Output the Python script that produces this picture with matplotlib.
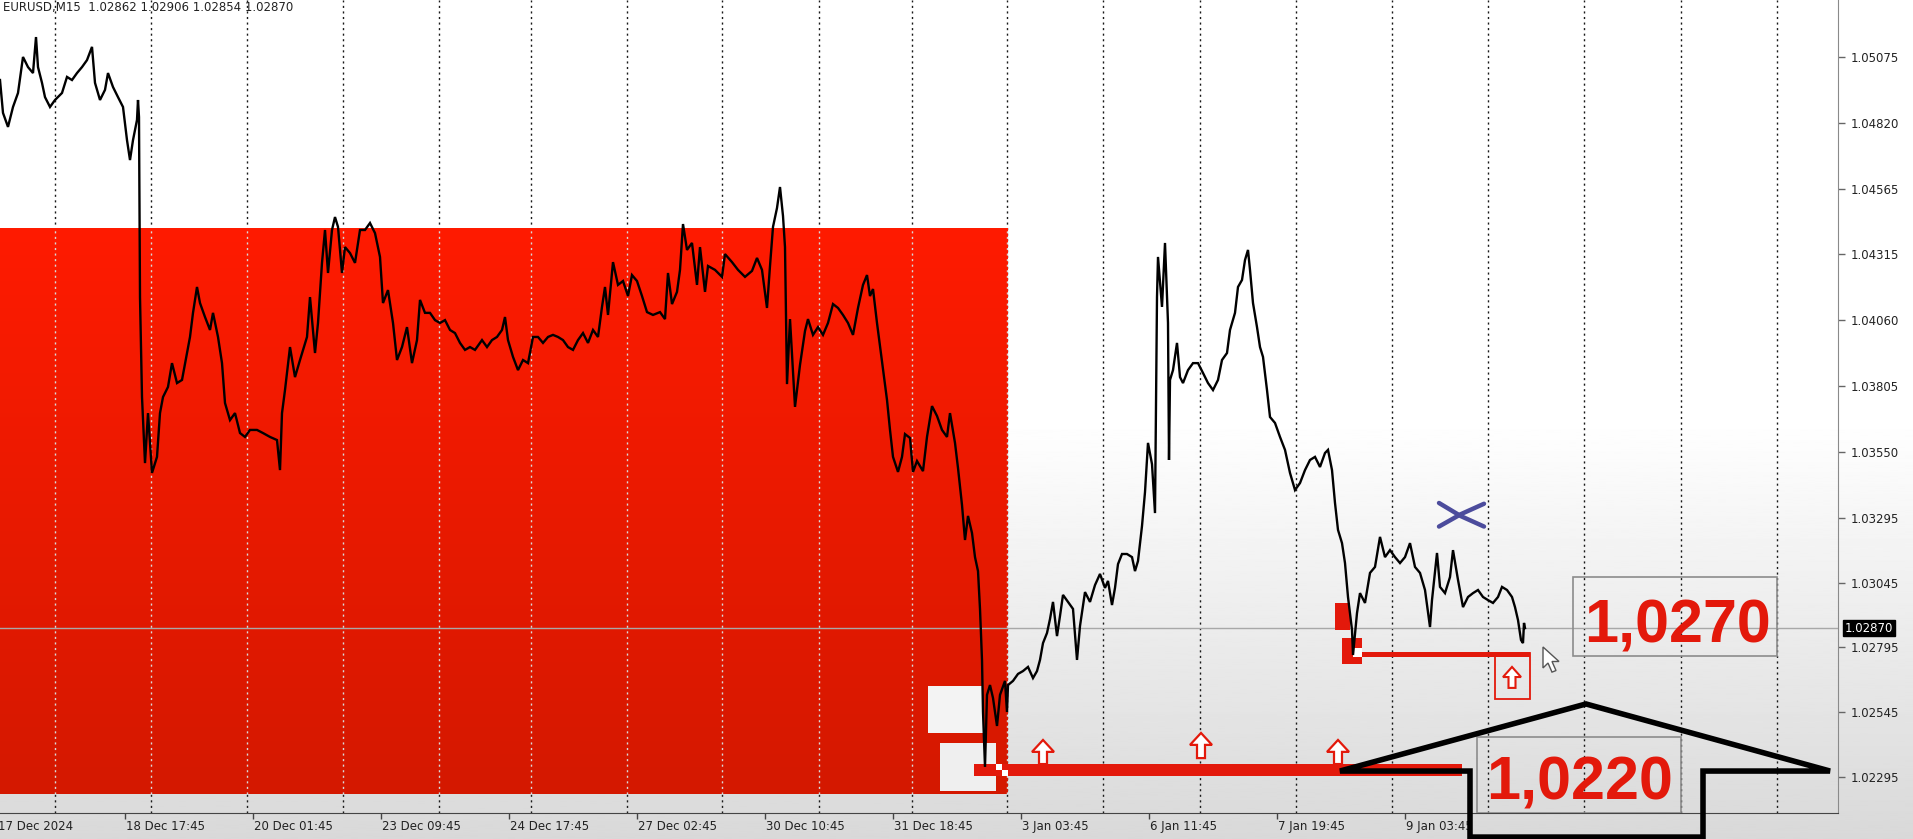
import numpy as np
import matplotlib
matplotlib.use("Agg")
import matplotlib.pyplot as plt
from matplotlib.patches import Rectangle, Polygon
import matplotlib.transforms as mtransforms

# ---------------- data ----------------
symbol_header = "EURUSD,M15  1.02862 1.02906 1.02854 1.02870"

bar_x = [0, 3, 8, 13, 18, 23, 28, 33, 36, 38, 42, 45, 50, 55, 62, 67, 72, 77, 82, 87, 92, 95, 100, 105, 108,
         113, 118, 123, 127, 130, 133, 137, 138, 139, 140, 142, 145, 148, 152, 157, 160, 163, 168, 172, 177,
         182, 187, 190, 193, 197, 200, 205, 210, 213, 218, 222, 225, 230, 235, 240, 245, 250, 257, 263, 270,
         277, 280, 282, 285, 290, 295, 300,
         307, 310, 315, 318, 322, 325, 328, 332, 335, 338, 342, 345, 350, 355, 360, 365, 370, 375, 380, 383,
         388, 393, 397, 402, 407, 412, 417, 420, 425, 430, 435, 440, 445, 450, 455, 460, 465, 470, 475, 482,
         487, 492, 497, 502, 505, 508, 513, 518, 523, 528, 533, 538, 543, 548, 553, 558, 563, 568, 573, 578,
         583, 588, 593, 598,
         602, 605, 608, 613, 618, 623, 628, 632, 637, 642, 647, 653, 660, 665, 668, 672, 677, 680, 683, 687,
         692, 697, 700, 705, 708, 715, 722, 725, 732, 738, 745, 752, 757, 762, 767, 770, 773, 777, 780, 783,
         785, 787, 790, 795, 800, 805, 808, 813, 818, 823, 828, 833, 838, 843, 848, 853, 858, 863, 867, 870,
         873, 877, 880, 883, 887, 890, 893, 898, 902, 905, 910, 913, 917,
         923, 927, 932, 937, 942, 947, 950, 955, 958, 962, 965, 968, 972, 975, 978, 980, 982, 983, 985, 987,
         990, 993, 997, 1000, 1005, 1007, 1008, 1013, 1018, 1023, 1028, 1033, 1037, 1040, 1043, 1047, 1050,
         1053, 1057, 1060, 1063, 1068, 1073, 1077, 1080, 1085, 1090, 1095, 1100, 1105, 1108, 1112, 1115, 1118,
         1122, 1127, 1132, 1135, 1138, 1142, 1145, 1148, 1152,
         1155, 1157, 1158, 1162, 1165, 1168, 1169, 1170, 1173, 1177, 1180, 1183, 1188, 1193, 1198, 1203, 1208,
         1213, 1218, 1222, 1227, 1230, 1235, 1238, 1242, 1245, 1248, 1250, 1253, 1257, 1260, 1263, 1267, 1270,
         1275, 1280, 1285, 1290, 1295, 1300, 1305, 1310, 1315, 1320, 1325, 1328, 1332, 1335, 1338, 1342, 1345,
         1348, 1352, 1353, 1357, 1360, 1365, 1370, 1375, 1380, 1385, 1390, 1395, 1400, 1405, 1410, 1415, 1420,
         1425, 1430, 1432, 1437, 1440, 1445, 1450, 1453, 1458, 1463, 1468, 1473, 1478, 1483, 1488, 1493, 1498,
         1502, 1507, 1512, 1515, 1518, 1521, 1523, 1524, 1525]

close = [1.04986, 1.04859, 1.04805, 1.04882, 1.04936, 1.05075, 1.05036, 1.05013, 1.05152, 1.05036, 1.04975,
         1.04920, 1.04882, 1.04909, 1.04936, 1.04998, 1.04986, 1.05013, 1.05036, 1.05063, 1.05114, 1.04975,
         1.04909, 1.04948, 1.05013, 1.04959, 1.04920, 1.04882, 1.04754, 1.04677, 1.04754, 1.04832, 1.04909,
         1.04843, 1.04148, 1.03762, 1.03507, 1.03700, 1.03469, 1.03531, 1.03700, 1.03762, 1.03801, 1.03893,
         1.03816, 1.03828, 1.03932, 1.03994, 1.04087, 1.04187, 1.04125, 1.04071, 1.04021, 1.04087, 1.03994,
         1.03893, 1.03739, 1.03673, 1.03700, 1.03623, 1.03608, 1.03635, 1.03635, 1.03623, 1.03608, 1.03596,
         1.03480, 1.03700, 1.03789, 1.03955, 1.03839, 1.03905,
         1.03994, 1.04148, 1.03932, 1.04048, 1.04280, 1.04407, 1.04241, 1.04407, 1.04457, 1.04419, 1.04241,
         1.04341, 1.04318, 1.04280, 1.04407, 1.04407, 1.04434, 1.04395, 1.04303, 1.04125, 1.04175, 1.04048,
         1.03905, 1.03955, 1.04032, 1.03893, 1.03982, 1.04137, 1.04087, 1.04087, 1.04059, 1.04048, 1.04059,
         1.04021, 1.04009, 1.03971, 1.03944, 1.03955, 1.03944, 1.03982, 1.03955, 1.03982, 1.03994, 1.04021,
         1.04071, 1.03982, 1.03917, 1.03866, 1.03905, 1.03893, 1.03994, 1.03994, 1.03971, 1.03994, 1.04002,
         1.03994, 1.03982, 1.03955, 1.03944, 1.03982, 1.04009, 1.03971, 1.04021, 1.03994,
         1.04110, 1.04187, 1.04079, 1.04283, 1.04195, 1.04210, 1.04152, 1.04233, 1.04210, 1.04152, 1.04090,
         1.04079, 1.04090, 1.04063, 1.04241, 1.04121, 1.04168, 1.04253, 1.04430, 1.04330, 1.04357, 1.04195,
         1.04341, 1.04168, 1.04268, 1.04253, 1.04226, 1.04314, 1.04283, 1.04253, 1.04226, 1.04249, 1.04299,
         1.04253, 1.04106, 1.04268, 1.04419, 1.04492, 1.04573, 1.04461, 1.04341, 1.03812, 1.04063, 1.03724,
         1.03886, 1.04017, 1.04063, 1.04002, 1.04032, 1.04002, 1.04048, 1.04121, 1.04106, 1.04079, 1.04048,
         1.04002, 1.04106, 1.04195, 1.04233, 1.04152, 1.04179, 1.04048, 1.03959, 1.03870, 1.03751, 1.03635,
         1.03531, 1.03473, 1.03531, 1.03619, 1.03604, 1.03473, 1.03515,
         1.03476, 1.03608, 1.03727, 1.03689, 1.03635, 1.03608, 1.03700, 1.03585, 1.03488, 1.03345, 1.03210,
         1.03303, 1.03237, 1.03144, 1.03090, 1.02944, 1.02747, 1.02546, 1.02334, 1.02612, 1.02650, 1.02600,
         1.02492, 1.02612, 1.02666, 1.02546, 1.02650, 1.02666, 1.02693, 1.02704, 1.02720, 1.02677, 1.02704,
         1.02747, 1.02812, 1.02851, 1.02905, 1.02971, 1.02839, 1.02917, 1.02998, 1.02971, 1.02944, 1.02747,
         1.02878, 1.03009, 1.02971, 1.03036, 1.03079, 1.03025, 1.03052, 1.02959, 1.03025, 1.03117, 1.03156,
         1.03156, 1.03144, 1.03090, 1.03129, 1.03264, 1.03395, 1.03585, 1.03503,
         1.03314, 1.04148, 1.04303, 1.04110, 1.04357, 1.04048, 1.03519, 1.03828, 1.03866, 1.03971, 1.03839,
         1.03816, 1.03866, 1.03893, 1.03893, 1.03855, 1.03816, 1.03789, 1.03828, 1.03905, 1.03932, 1.04021,
         1.04087, 1.04187, 1.04214, 1.04291, 1.04330, 1.04253, 1.04125, 1.04032, 1.03955, 1.03917, 1.03789,
         1.03685, 1.03662, 1.03608, 1.03558, 1.03469, 1.03403, 1.03430, 1.03480, 1.03519, 1.03531, 1.03492,
         1.03546, 1.03558, 1.03480, 1.03353, 1.03249, 1.03198, 1.03121, 1.02990, 1.02863, 1.02766, 1.02928,
         1.03005, 1.02967, 1.03083, 1.03106, 1.03222, 1.03144, 1.03171, 1.03144, 1.03121, 1.03144, 1.03198,
         1.03106, 1.03083, 1.03017, 1.02874, 1.02978, 1.03160, 1.03029, 1.03005, 1.03067, 1.03171, 1.03056,
         1.02951, 1.02990, 1.03005, 1.03017, 1.02990, 1.02978, 1.02967, 1.02990, 1.03029, 1.03017, 1.02990,
         1.02951, 1.02901, 1.02824, 1.02812, 1.02890, 1.02870]

current_price = 1.02870
price_ticks = [1.05075, 1.04820, 1.04565, 1.04315, 1.04060, 1.03805, 1.03550, 1.03295, 1.03045, 1.02795,
               1.02545, 1.02295]
time_tick_bars = [-3, 125, 253, 381, 509, 637, 765, 893, 1021, 1149, 1277, 1405]
time_tick_labels = ["17 Dec 2024", "18 Dec 17:45", "20 Dec 01:45", "23 Dec 09:45", "24 Dec 17:45",
                    "27 Dec 02:45", "30 Dec 10:45", "31 Dec 18:45", "3 Jan 03:45", "6 Jan 11:45",
                    "7 Jan 19:45", "9 Jan 03:45"]
day_separators = [55, 151, 247, 343, 439, 531, 627, 722, 819, 912, 1007, 1103, 1200, 1296, 1392, 1488,
                  1584, 1681, 1777]

# zone / annotation levels (bar index, price)
zone_end_bar = 1008
zone_high, zone_low = 1.04411, 1.02229
support_level_1 = 1.02322        # thick red line
support_level_2 = 1.02768        # thin red line
label_1 = "1,0270"
label_2 = "1,0220"
arrow_bars = [1043, 1201, 1338]
arrow_tips = [1.02438, 1.02465, 1.02438]
arrow_bases = [1.02345, 1.02368, 1.02345]

# ---------------- figure ----------------
W, H = 1913, 839
fig = plt.figure(figsize=(W / 100, H / 100), dpi=100)

bg = fig.add_axes([0, 0, 1, 1], zorder=-10)
bg.axis("off")
t = np.linspace(0, 1, 500)
g = np.where(t < 0.5, 1.0, 1.0 - (t - 0.5) / 0.5 * 0.15)
bg.imshow(g[:, None], cmap="gray", vmin=0, vmax=1, aspect="auto", extent=[0, 1, 0, 1])

ax = fig.add_axes([0, 26 / H, 1838 / W, 813 / H])
ax.set_facecolor("none")
y_top, y_bot = 1.05295, 1.02156
RED = "#e3190b"

# red zone with slight vertical gradient
n = 300
top_c = np.array([255, 27, 0]) / 255
bot_c = np.array([212, 24, 0]) / 255
tt = np.linspace(0, 1, n)[:, None]
zone_img = (top_c * (1 - tt) + bot_c * tt)[:, None, :]
ax.imshow(zone_img, extent=[0, zone_end_bar, zone_low, zone_high], aspect="auto",
          origin="upper", zorder=1, interpolation="bilinear")

# day separators
for gx in day_separators:
    ax.axvline(gx, color="#1a1a1a", lw=1.0, ls=(0, (1.5, 2.5)), zorder=0.5)
    if gx < zone_end_bar:
        ax.plot([gx, gx], [zone_low, zone_high], color="#d9d9d9", lw=1.0,
                ls=(0, (1.5, 2.5)), zorder=1.5)

# current price line
ax.axhline(current_price, color="#a8a8a8", lw=1.0, zorder=2)

# white boxes at the bottom of the zone
ax.add_patch(Rectangle((928, 1.02465), 55, 1.02646 - 1.02465, fc="#f3f3f3", ec="none", zorder=2))
ax.add_patch(Rectangle((940, 1.02241), 56, 1.02426 - 1.02241, fc="#efefef", ec="none", zorder=2))

# thick red support bar
ax.add_patch(Rectangle((974, support_level_1 - 0.00023), 1462 - 974, 0.00046, fc=RED, ec="none", zorder=4))
ax.add_patch(Rectangle((996, support_level_1), 6, 0.00023, fc="white", ec="none", zorder=4.2))
ax.add_patch(Rectangle((1002, support_level_1 - 0.00023), 6, 0.00023, fc="white", ec="none", zorder=4.2))


def up_arrow(xc, tip, base, head_h, hw, sw, **kw):
    pts = [(xc, tip), (xc + hw, tip - head_h), (xc + sw, tip - head_h), (xc + sw, base),
           (xc - sw, base), (xc - sw, tip - head_h), (xc - hw, tip - head_h)]
    ax.add_patch(Polygon(pts, closed=True, **kw))


for xb, tp, bs in zip(arrow_bars, arrow_tips, arrow_bases):
    up_arrow(xb, tp, bs, 0.00046, 11, 4, fc="white", ec=RED, lw=1.6, zorder=4.5)

# second (thin) red line and blocks
ax.add_patch(Rectangle((1350, support_level_2 - 0.0001), 180, 0.0002, fc=RED, ec="none", zorder=4))
ax.add_patch(Rectangle((1335, 1.02863), 15, 0.00104, fc=RED, ec="none", zorder=4))
ax.add_patch(Rectangle((1342, 1.02731), 20, 0.00101, fc=RED, ec="none", zorder=4))
ax.add_patch(Rectangle((1353, 1.02758), 9, 0.00035, fc="white", ec="none", zorder=4.1))
ax.add_patch(Rectangle((1495, 1.02596), 35, 0.00178, fc="none", ec=RED, lw=1.3, zorder=4))
up_arrow(1512, 1.02720, 1.02639, 0.00039, 9, 3.5, fc="white", ec=RED, lw=1.5, zorder=4.5)

# blue cross
ax.plot([1439, 1461, 1484], [1.03353, 1.03302, 1.03262], color="#4c4c9c", lw=3.2,
        solid_capstyle="round", zorder=6)
ax.plot([1439, 1461, 1484], [1.03262, 1.03310, 1.03350], color="#4c4c9c", lw=3.2,
        solid_capstyle="round", zorder=6)

# price line
ax.plot(bar_x, close, color="black", lw=1.7, zorder=5, solid_joinstyle="miter")

# label boxes
ax.add_patch(Rectangle((1573, 1.02762), 204, 0.00305, fc="none", ec="#8c8c8c", lw=1.2, zorder=6))
ax.text(1677, 1.02816, label_1, color=RED, fontsize=44, fontweight="bold",
        family="Liberation Sans", ha="center", va="baseline", zorder=7)
ax.add_patch(Rectangle((1477, y_bot), 204, 1.02449 - y_bot, fc="none", ec="#8c8c8c", lw=1.2, zorder=6))
ax.text(1580, 1.02210, label_2, color=RED, fontsize=44, fontweight="bold",
        family="Liberation Sans", ha="center", va="baseline", zorder=7)

# big hollow black arrow
big_arrow = [(1340, 1.02318), (1586, 1.02577), (1830, 1.02318), (1703, 1.02318),
             (1703, 1.02063), (1470, 1.02063), (1470, 1.02318)]
ax.add_patch(Polygon(big_arrow, closed=True, fc="none", ec="black", lw=4.0, zorder=8,
                     clip_on=False, joinstyle="miter"))

# mouse cursor
cursor = [(1543, 1.02797), (1543, 1.02716), (1548, 1.02735), (1552, 1.02700), (1556, 1.02706),
          (1552, 1.02741), (1559, 1.02741)]
ax.add_patch(Polygon(cursor, closed=True, fc="white", ec="#555555", lw=1.0, zorder=7))

# axes
ax.set_xlim(0, 1838)
ax.set_ylim(y_bot, y_top)
for s in ("left", "top"):
    ax.spines[s].set_visible(False)
ax.spines["right"].set_color("#8a8a8a")
ax.spines["bottom"].set_color("#444444")
ax.yaxis.tick_right()
ax.set_yticks(price_ticks)
ax.set_yticklabels([f"{v:.5f}" for v in price_ticks])
ax.tick_params(axis="y", direction="out", length=5, width=1, color="#666666",
               labelsize=8.5, labelcolor="#222222", pad=4)
ax.set_xticks([b for b in time_tick_bars if b >= 0])
ax.set_xticklabels([])
ax.tick_params(axis="x", direction="out", length=4, width=1, color="#444444")

xtrans = mtransforms.blended_transform_factory(ax.transData, ax.transAxes)
for b, lab in zip(time_tick_bars, time_tick_labels):
    ax.text(b + 1, -0.016, lab, transform=xtrans, ha="left", va="center", fontsize=8.5,
            color="#222222", clip_on=False)

# current price tag on the axis
ytrans = mtransforms.blended_transform_factory(ax.transAxes, ax.transData)
ax.text(1.0035, current_price, f"{current_price:.5f}", transform=ytrans, ha="left", va="center",
        fontsize=8.5, color="white", zorder=10,
        bbox=dict(boxstyle="square,pad=0.15", fc="black", ec="black"))

fig.text(3 / W, 1 - 8 / H, symbol_header, ha="left", va="center", fontsize=8.5, color="#222222")

fig.savefig("out.png", dpi=100)
